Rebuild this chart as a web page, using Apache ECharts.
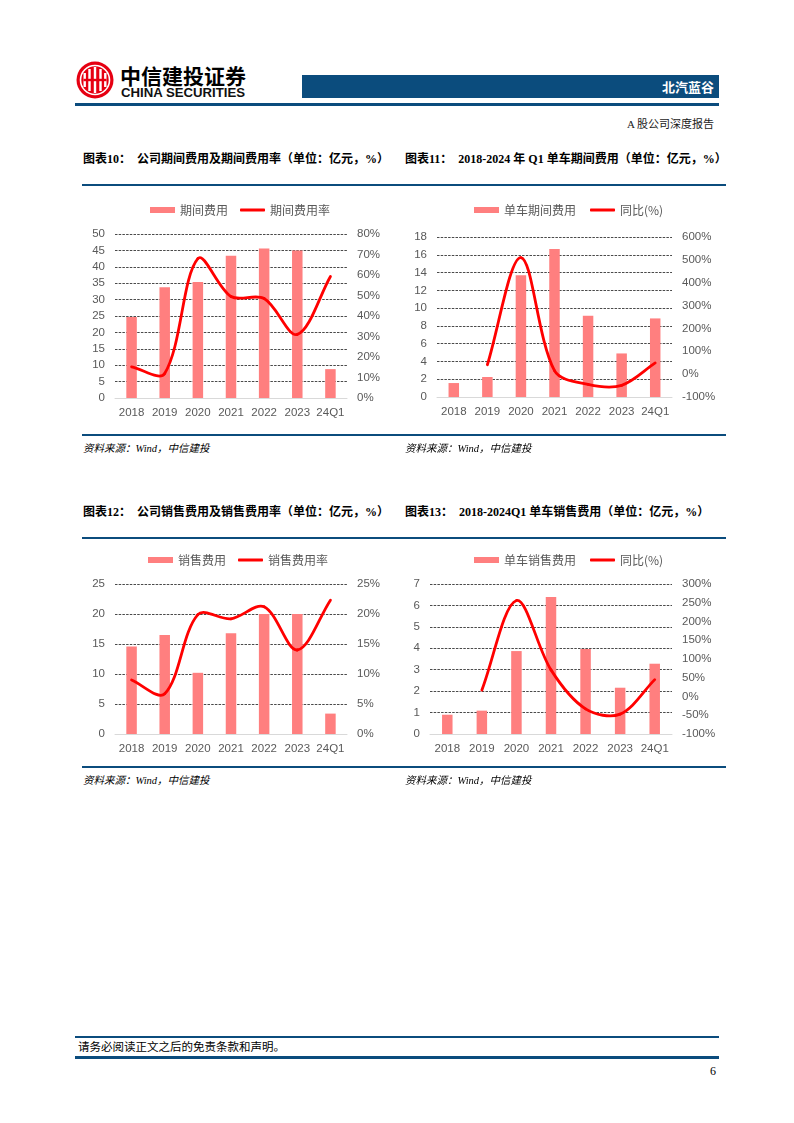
<!DOCTYPE html>
<html>
<head>
<meta charset="utf-8">
<script src="https://cdn.jsdelivr.net/npm/echarts@6/dist/echarts.min.js"></script>
<style>
  html,body{margin:0;padding:0;background:#fff;}
  body{width:794px;height:1123px;position:relative;overflow:hidden;font-family:"Liberation Serif","Noto Sans CJK SC",serif;}
  .abs{position:absolute;}
  .title{position:absolute;font-size:12px;font-weight:bold;color:#000;white-space:nowrap;font-family:"Liberation Serif","Noto Sans CJK SC",serif;}
  .src{position:absolute;font-size:10.5px;font-style:italic;color:#000;white-space:nowrap;font-family:"Liberation Serif","Noto Sans CJK SC",serif;}
  .hr{position:absolute;background:#0B4C7D;}
  .chart{position:absolute;}
</style>
</head>
<body>
<!-- header -->
<svg class="abs" style="left:76px;top:61px" width="38" height="38" viewBox="0 0 38 38">
  <circle cx="19" cy="19" r="18.5" fill="#E60012"/>
  <circle cx="19" cy="19" r="14.5" fill="none" stroke="#fff" stroke-width="1.6"/>
  <rect x="7.5" y="12" width="2.4" height="14" fill="#fff"/>
  <rect x="12.3" y="8" width="2.4" height="22" fill="#fff"/>
  <rect x="17.8" y="6" width="2.4" height="26" fill="#fff"/>
  <rect x="23.3" y="8" width="2.4" height="22" fill="#fff"/>
  <rect x="28.1" y="12" width="2.4" height="14" fill="#fff"/>
  <rect x="7.5" y="17.8" width="23" height="2.4" fill="#E60012"/>
</svg>
<div class="abs" style="left:120px;top:62px;font-size:21px;font-weight:bold;color:#000;font-family:'Noto Sans CJK SC';line-height:26px;white-space:nowrap;">中信建投证券</div>
<div class="abs" style="left:121px;top:86px;font-size:13.2px;font-weight:bold;color:#111;font-family:'Liberation Sans',Arial,sans-serif;line-height:14px;white-space:nowrap;">CHINA SECURITIES</div>
<div class="abs" style="left:302px;top:75px;width:417px;height:23px;background:#0B4C7D;"></div>
<div class="abs" style="left:560px;top:75px;width:154px;height:23px;line-height:23px;text-align:right;color:#fff;font-size:13px;font-weight:bold;font-family:'Noto Sans CJK SC';">北汽蓝谷</div>
<div class="hr" style="left:75px;top:103px;width:644px;height:3px;"></div>
<div class="abs" style="left:500px;top:117px;width:214px;text-align:right;font-size:11px;color:#1a1a1a;font-family:'Liberation Serif','Noto Sans CJK SC';line-height:15px;">A 股公司深度报告</div>

<!-- chart titles -->
<div class="title" style="left:83px;top:149px;">图表10：&nbsp;&nbsp;公司期间费用及期间费用率（单位：亿元，%）</div>
<div class="title" style="left:405px;top:149px;">图表11：&nbsp;&nbsp;2018-2024 年 Q1 单车期间费用（单位：亿元，%）</div>
<div class="hr" style="left:82px;top:184px;width:644px;height:2px;"></div>

<div class="title" style="left:83px;top:502px;">图表12：&nbsp;&nbsp;公司销售费用及销售费用率（单位：亿元，%）</div>
<div class="title" style="left:405px;top:502px;">图表13：&nbsp;&nbsp;2018-2024Q1 单车销售费用（单位：亿元，%）</div>
<div class="hr" style="left:82px;top:537px;width:644px;height:2px;"></div>

<div class="chart" id="c1" style="left:72px;top:195px;width:330px;height:230px;"></div>
<div class="chart" id="c2" style="left:397px;top:195px;width:330px;height:230px;"></div>
<div class="chart" id="c3" style="left:72px;top:545px;width:330px;height:220px;"></div>
<div class="chart" id="c4" style="left:397px;top:545px;width:330px;height:220px;"></div>

<div class="hr" style="left:82px;top:434px;width:644px;height:2px;"></div>
<div class="src" style="left:83px;top:440px;">资料来源：Wind，中信建投</div>
<div class="src" style="left:405px;top:440px;">资料来源：Wind，中信建投</div>

<div class="hr" style="left:82px;top:766px;width:644px;height:2px;"></div>
<div class="src" style="left:83px;top:772px;">资料来源：Wind，中信建投</div>
<div class="src" style="left:405px;top:772px;">资料来源：Wind，中信建投</div>

<!-- footer -->
<div class="hr" style="left:75px;top:1036px;width:644px;height:2px;"></div>
<div class="abs" style="left:78px;top:1040px;font-size:11.5px;color:#000;font-family:'Liberation Serif','Noto Sans CJK SC';line-height:15px;white-space:nowrap;">请务必阅读正文之后的免责条款和声明。</div>
<div class="hr" style="left:75px;top:1056px;width:644px;height:3px;"></div>
<div class="abs" style="left:700px;top:1064px;width:16px;text-align:right;font-size:12px;color:#000;font-family:'Liberation Serif';">6</div>

<script>
// ===== data =====
var categories = ['2018', '2019', '2020', '2021', '2022', '2023', '24Q1'];

var periodExpense = [24.7, 33.8, 35.4, 43.4, 45.6, 45.0, 8.8];
var periodExpenseRate = [15.2, 12.0, 68.0, 49.5, 48.5, 31.0, 59.3];

var unitPeriodExpense = [1.57, 2.25, 13.7, 16.65, 9.14, 4.9, 8.84];
var unitPeriodExpenseYoY = [null, 41, 510, 15, -45, -49, 49];

var salesExpense = [14.6, 16.5, 10.2, 16.8, 20.0, 20.0, 3.4];
var salesExpenseRate = [9.0, 6.7, 19.9, 19.2, 21.2, 14.0, 22.3];

var unitSalesExpense = [0.90, 1.09, 3.87, 6.39, 3.97, 2.16, 3.28];
var unitSalesExpenseYoY = [null, 17, 256, 71, -33, -47, 45];

// ===== builder =====
var BAR = '#FF7F7F', LINE = '#FF0000', LBL = '#595959';

// smoothed line drawn through the axes' own coordinate mapping
// (bezier segments, tangent = next - prev, weighted by adjacent chord lengths)
function smoothLineSeries(name, vals) {
  var T = 1 / 3;
  return {
    name: name, type: 'custom', yAxisIndex: 1,
    data: vals.map(function (v, i) { return [i, v == null ? '-' : v]; }),
    encode: { x: 0, y: 1 },
    itemStyle: { color: LINE },
    z: 3,
    renderItem: function (params, api) {
      var i = params.dataIndex;
      if (vals[i] == null || i + 1 >= vals.length || vals[i + 1] == null) return null;
      function P(j) {
        if (j < 0 || j >= vals.length || vals[j] == null) return null;
        return api.coord([j, vals[j]]);
      }
      function dist(a, b) { return Math.sqrt((a[0] - b[0]) * (a[0] - b[0]) + (a[1] - b[1]) * (a[1] - b[1])); }
      var p1 = P(i), p2 = P(i + 1), p0 = P(i - 1) || p1, p3 = P(i + 2) || p2;
      var d01 = dist(p0, p1), d12 = dist(p1, p2), d23 = dist(p2, p3);
      var r1 = (d01 + d12) > 0 ? d12 / (d01 + d12) : 0.5;
      var r2 = (d12 + d23) > 0 ? d12 / (d12 + d23) : 0.5;
      return {
        type: 'bezierCurve',
        shape: {
          x1: p1[0], y1: p1[1], x2: p2[0], y2: p2[1],
          cpx1: p1[0] + (p2[0] - p0[0]) * T * r1, cpy1: p1[1] + (p2[1] - p0[1]) * T * r1,
          cpx2: p2[0] - (p3[0] - p1[0]) * T * r2, cpy2: p2[1] - (p3[1] - p1[1]) * T * r2
        },
        style: { stroke: LINE, lineWidth: 2.8, fill: null, lineCap: 'round' }
      };
    }
  };
}

function build(o) {
  var legText = { color: LBL, fontSize: 12, fontFamily: 'Noto Sans CJK SC' };
  return {
    animation: false,
    legend: [
      { left: o.lg[0], top: 4, itemWidth: 25, itemHeight: 6, textStyle: legText,
        data: [{ name: o.barName, icon: 'rect' }] },
      { left: o.lg[1], top: 4, itemWidth: 25, itemHeight: 3, textStyle: legText,
        data: [{ name: o.lineName, icon: 'roundRect' }] }
    ],
    grid: { left: o.grid[0], right: o.grid[1], top: o.grid[2], bottom: o.grid[3], containLabel: false },
    xAxis: {
      type: 'category', data: categories,
      axisLine: { show: true, lineStyle: { color: '#D9D9D9', width: 1 } },
      axisTick: { show: false },
      axisLabel: { color: LBL, fontSize: 11.5, fontFamily: 'Liberation Sans', margin: 9, interval: 0 }
    },
    yAxis: [
      {
        type: 'value', min: o.left[0], max: o.left[1], interval: o.left[2],
        axisLine: { show: false }, axisTick: { show: false },
        axisLabel: { color: LBL, fontSize: 11.5, fontFamily: 'Liberation Sans', margin: 10 },
        splitLine: { show: true, lineStyle: { color: '#4a4a4a', width: 1, type: [2.5, 1.2] } }
      },
      {
        type: 'value', min: o.right[0], max: o.right[1], interval: o.right[2],
        axisLine: { show: false }, axisTick: { show: false },
        axisLabel: { color: LBL, fontSize: 11.5, fontFamily: 'Liberation Sans', margin: 10, formatter: '{value}%' },
        splitLine: { show: false }
      }
    ],
    series: [
      {
        name: o.barName, type: 'bar', data: o.bars, barWidth: 10.5,
        itemStyle: { color: BAR }, z: 2
      },
      smoothLineSeries(o.lineName, o.line)
    ]
  };
}

echarts.init(document.getElementById('c1')).setOption(build({
  barName: '期间费用', lineName: '期间费用率', lg: [73, 163],
  grid: [43, 55, 39, 27],
  left: [0, 50, 5], right: [0, 80, 10],
  bars: periodExpense, line: periodExpenseRate
}));
echarts.init(document.getElementById('c2')).setOption(build({
  barName: '单车期间费用', lineName: '同比(%)', lg: [72, 188],
  grid: [40, 55, 42, 28],
  left: [0, 18, 2], right: [-100, 600, 100],
  bars: unitPeriodExpense, line: unitPeriodExpenseYoY
}));
echarts.init(document.getElementById('c3')).setOption(build({
  barName: '销售费用', lineName: '销售费用率', lg: [71, 161],
  grid: [43, 55, 39, 31],
  left: [0, 25, 5], right: [0, 25, 5],
  bars: salesExpense, line: salesExpenseRate
}));
echarts.init(document.getElementById('c4')).setOption(build({
  barName: '单车销售费用', lineName: '同比(%)', lg: [72, 188],
  grid: [33, 55, 39, 31],
  left: [0, 7, 1], right: [-100, 300, 50],
  bars: unitSalesExpense, line: unitSalesExpenseYoY
}));
</script>
</body>
</html>
